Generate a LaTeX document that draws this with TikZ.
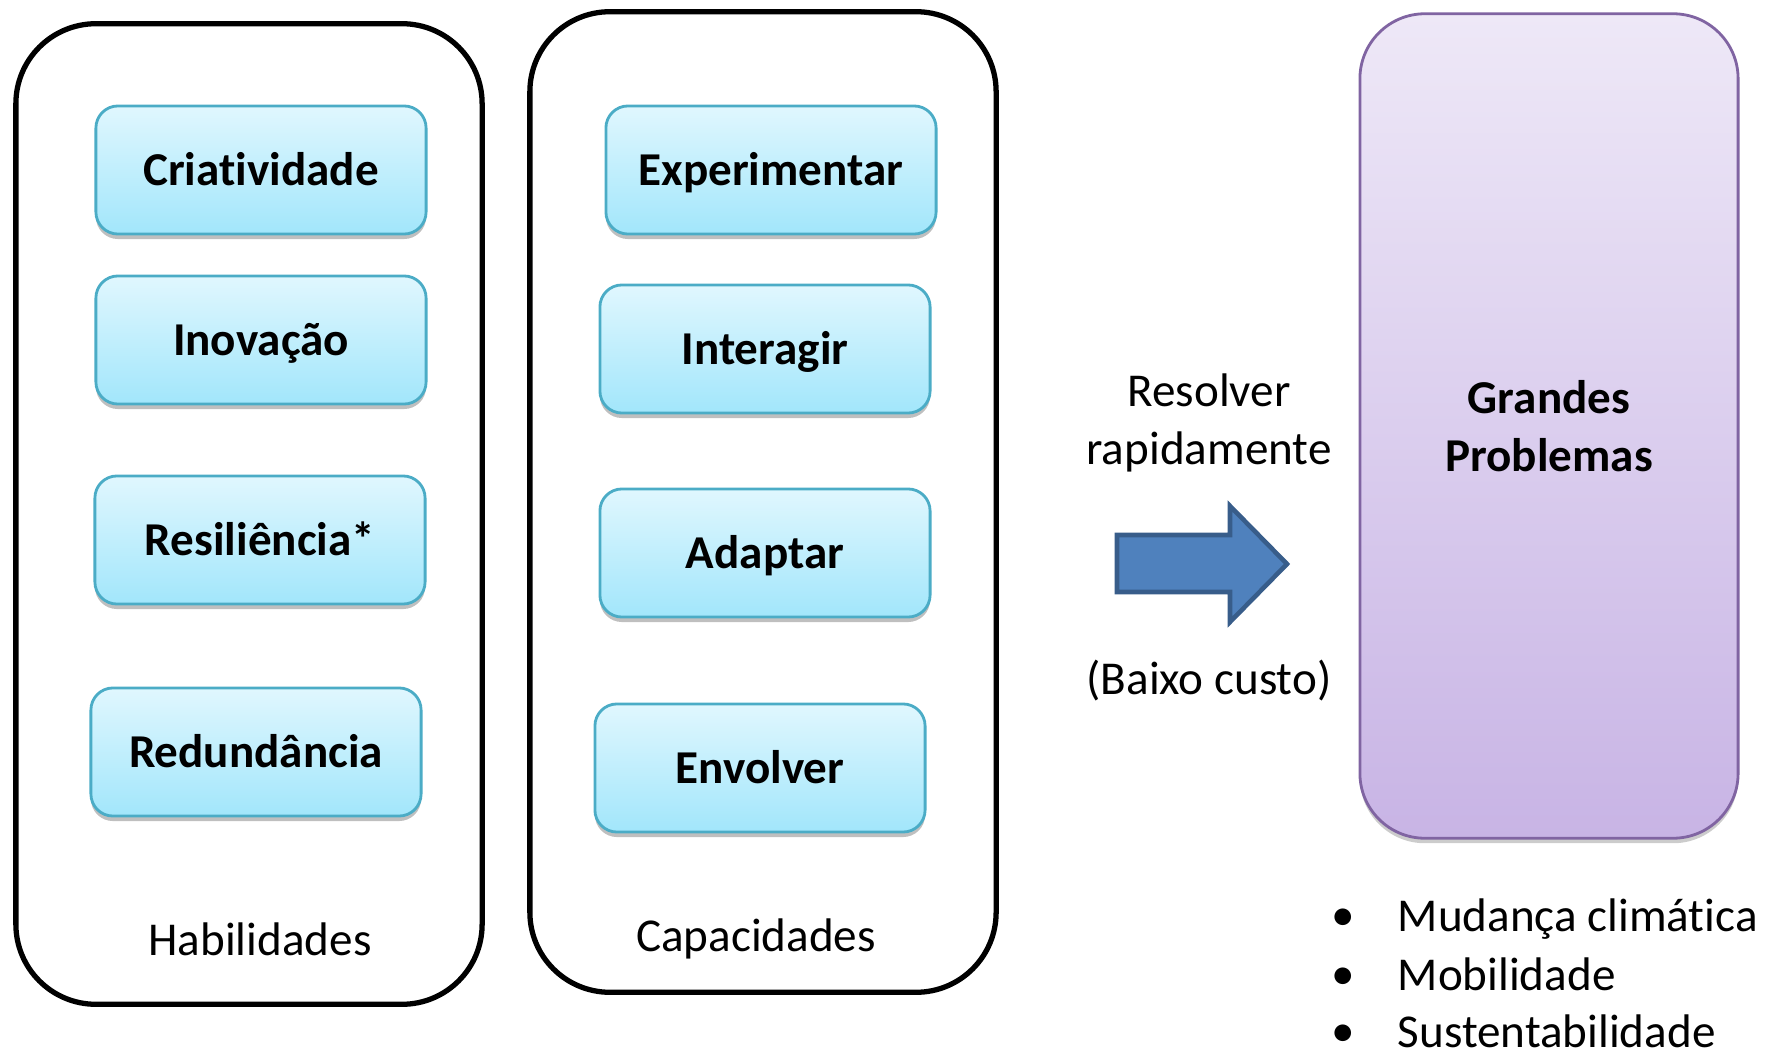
\documentclass[tikz,border=0pt]{standalone}
\usepackage{fontspec}
\setmainfont{Carlito}[RawFeature={-liga;-calt}]
\usetikzlibrary{shadows}
\definecolor{aquatop}{HTML}{E0F7FE}
\definecolor{aquabot}{HTML}{A2E6FB}
\definecolor{aqualine}{HTML}{4BACC6}
\definecolor{lilactop}{HTML}{EEE8F7}
\definecolor{lilacbot}{HTML}{C8B4E5}
\definecolor{lilacline}{HTML}{8064A2}
\definecolor{arrowfill}{HTML}{4F81BD}
\definecolor{arrowline}{HTML}{385D8A}
\tikzset{
  skillbox/.style={draw=aqualine, line width=0.8pt, rounded corners=0.22cm,
    top color=aquatop, bottom color=aquabot,
    minimum width=3.3cm, minimum height=1.28cm,
    text height=0.31cm, text depth=0.01cm,
    font=\fontsize{13.4}{16.5}\selectfont\bfseries,
    drop shadow={shadow xshift=0pt, shadow yshift=-0.05cm, opacity=0.25, fill=black}},
  groupbox/.style={draw=black, line width=1.5pt, rounded corners=0.8cm,
    minimum width=4.66cm, minimum height=9.8cm},
  plain/.style={inner sep=0pt}
}
\begin{document}
\begin{tikzpicture}[x=0.01cm,y=-0.01cm,font=\fontsize{13.4}{16.5}\selectfont]
      \useasboundingbox (0,0) rectangle (1770,1055);
      % outer groups
      \node[groupbox] (hab) at (249,514) {};
      \node[groupbox] (cap) at (763,502) {};
      \node[plain] (habtxt) at (260,939) {Habilidades};
      \node[plain] (captxt) at (756,939) {Capacidades};
      % habilidades
      \node[skillbox] (criat) at (261,170) {Criatividade};
      \node[skillbox] (inov) at (261,340) {Inovação};
      \node[skillbox] (resil) at (260,540) {Resiliência*};
      \node[skillbox] (redun) at (256,752) {Redundância};
      % capacidades
      \node[skillbox] (exper) at (771,170) {Experimentar};
      \node[skillbox] (inter) at (765,349) {Interagir};
      \node[skillbox] (adapt) at (765,553) {Adaptar};
      \node[skillbox] (envol) at (760,768) {Envolver};
      % arrow
      \node[plain, align=center] (resolver) at (1209,423) {Resolver\\rapidamente};
      \node[plain] (custo) at (1209,681) {(Baixo custo)};
      \draw[draw=arrowline, fill=arrowfill, line width=1.3pt, line join=miter]
        (1117,535) -- (1230,535) -- (1230,506) -- (1287,564) -- (1230,622)
        -- (1230,592) -- (1117,592) -- cycle;
      % problemas
      \node[draw=lilacline, line width=0.8pt, rounded corners=0.65cm,
        top color=lilactop, bottom color=lilacbot,
        minimum width=3.78cm, minimum height=8.24cm,
        align=center, font=\fontsize{13.4}{16.5}\selectfont\bfseries,
        drop shadow={shadow xshift=0pt, shadow yshift=-0.05cm, opacity=0.2, fill=black}]
        (prob) at (1549,426) {Grandes\\Problemas};
      \node[plain] (b1) at (1343,920) {\textbullet};
      \node[plain] (b2) at (1343,979) {\textbullet};
      \node[plain] (b3) at (1343,1036) {\textbullet};
      \node[plain, anchor=base west] (mud) at (1397,931) {Mudança climática};
      \node[plain, anchor=base west] (mob) at (1397,990) {Mobilidade};
      \node[plain, anchor=base west] (sus) at (1397,1047) {Sustentabilidade};
\end{tikzpicture}
\end{document}
